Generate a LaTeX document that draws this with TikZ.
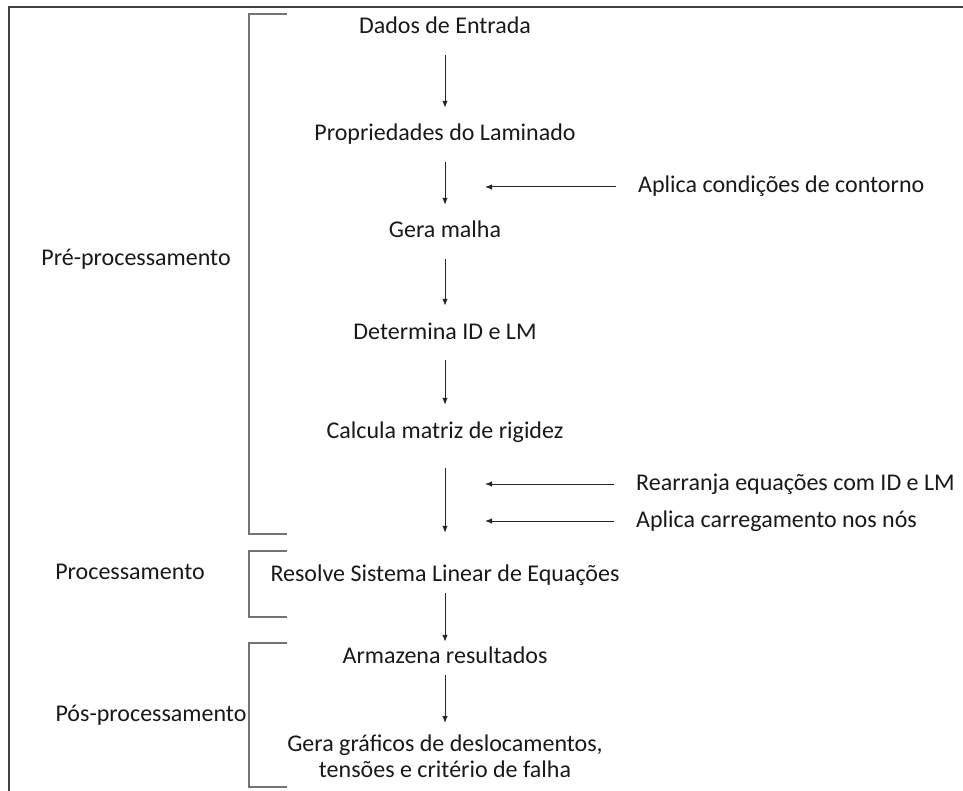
\documentclass[tikz,border=0pt]{standalone}
\usepackage{fontspec}
\setmainfont{Carlito}
\usetikzlibrary{arrows.meta}
\begin{document}
\begin{tikzpicture}[x=1pt,y=-1pt,
    passo/.style={font=\fontsize{24}{26}\selectfont,inner sep=0pt,text height=17pt,text depth=5pt,text=black!90},
    lado/.style={passo,anchor=west},
    seta/.style={-{Latex[length=7pt,width=5.5pt]},black!85,line width=1pt,shorten <=16pt,shorten >=16pt},
    chave/.style={black!55,line width=1.6pt}]
    \useasboundingbox (0,0) rectangle (963,791);
    \draw [black!75,line width=2.5pt] (9,791) -- (9,7) -- (963,7);% moldura
    \node [passo] (dados) at (445,28) {Dados de Entrada};
    \node [passo] (prop) at (445,135) {Propriedades do Laminado};
    \node [passo] (malha) at (445,232) {Gera malha};
    \node [passo] (idlm) at (445,333) {Determina ID e LM};
    \node [passo] (rigidez) at (445,432) {Calcula matriz de rigidez};
    \node [passo] (sistema) at (445,575) {Resolve Sistema Linear de Equações};
    \node [passo] (armazena) at (445,657) {Armazena resultados};
    \node [font=\fontsize{24}{26}\selectfont,inner sep=0pt,text=black!90,align=center,anchor=north] (graficos) at (445,735)
        {Gera gráficos de deslocamentos,\\tensões e critério de falha};
    \node [lado] (contorno) at (638,187) {Aplica condições de contorno};
    \node [lado] (rearranja) at (636,484) {Rearranja equações com ID e LM};
    \node [lado] (carga) at (636,521) {Aplica carregamento nos nós};
    \node [passo] (pre) at (136,260) {Pré-processamento};
    \node [passo] (proc) at (130,573) {Processamento};
    \node [passo] (pos) at (151,715) {Pós-processamento};
    \coordinate (c1) at (485,187);
    \coordinate (c2) at (485,484);
    \coordinate (c3) at (485,521);
    \draw [seta] (dados) -- (prop);
    \draw [seta] (prop) -- (malha);
    \draw [seta] (malha) -- (idlm);
    \draw [seta] (idlm) -- (rigidez);
    \draw [seta,shorten <=25pt,shorten >=31pt] (rigidez) -- (sistema);
    \draw [seta,shorten <=7pt,shorten >=4pt] (sistema) -- (armazena);
    \draw [seta,shorten <=7pt,shorten >=12pt] (armazena) -- (graficos);
    \draw [seta,shorten <=22pt,shorten >=0pt] (contorno.west) -- (c1);
    \draw [seta,shorten <=22pt,shorten >=0pt] (rearranja.west) -- (c2);
    \draw [seta,shorten <=22pt,shorten >=0pt] (carga.west) -- (c3);
    % chaves
    \draw [chave] (287,14) -| (249,534) -- (287,534);
    \draw [chave] (287,551) -| (249,617) -- (287,617);
    \draw [chave] (287,643) -| (249,787) -- (287,787);
\end{tikzpicture}
\end{document}
